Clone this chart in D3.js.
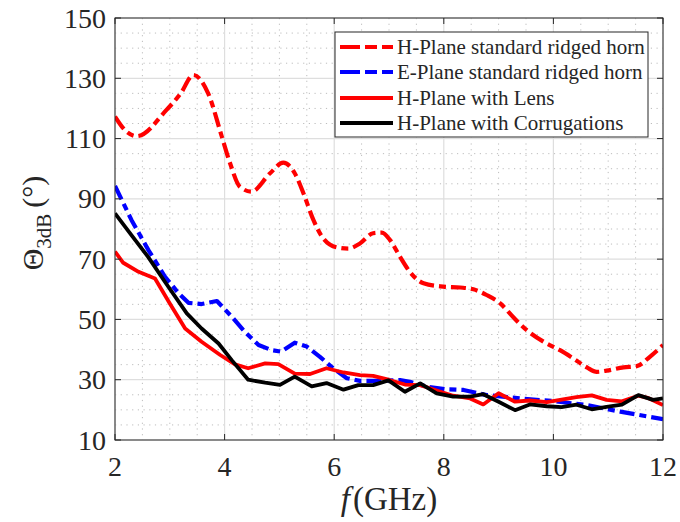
<!DOCTYPE html>
<html>
<head>
<meta charset="utf-8">
<script src="https://cdn.jsdelivr.net/npm/d3@7"></script>
<style>
  html, body { margin: 0; padding: 0; background: #fff; }
  svg { display: block; }
  text { font-family: "Liberation Serif", "Times New Roman", serif; fill: #262626; }
</style>
</head>
<body>
<svg id="chart" width="680" height="522"></svg>
<script>
// ---- Data ----
const hStdFreq = [2.0, 2.2, 2.4, 2.94, 3.2, 3.43, 3.7, 3.95, 4.1, 4.28, 4.49, 4.83, 5.07, 5.28, 5.44, 5.62, 5.8, 6.05, 6.26, 6.47, 6.71, 6.87, 7.02, 7.2, 7.38, 7.63, 7.99, 8.3, 8.54, 8.78, 9.03, 9.27, 9.51, 9.82, 10.12, 10.36, 10.61, 10.79, 10.97, 11.28, 11.52, 11.76, 12.0];
const hStdVals = [117.3, 112.5, 110.8, 119.5, 125, 131.1, 125, 110.6, 101.8, 94, 92.4, 98.5, 102, 98.5, 91.8, 83, 76.9, 73.9, 73.5, 75.2, 78.6, 78.8, 76.3, 70.8, 65.8, 62, 60.9, 60.6, 60, 58.1, 55.3, 50.7, 46.5, 42.6, 39.8, 37.1, 34.1, 32.6, 33, 34.1, 34.5, 37.6, 41.5];

const eStdFreq = [2.0, 2.3, 2.61, 2.91, 3.16, 3.34, 3.58, 3.86, 4.13, 4.37, 4.62, 4.86, 5.03, 5.28, 5.5, 5.74, 5.98, 6.23, 6.47, 6.84, 7.2, 7.38, 7.69, 8.05, 8.36, 8.78, 9.39, 10.0, 10.61, 11.22, 12.0];
const eStdVals = [94.3, 83, 73, 64.2, 58.7, 55.5, 55.1, 56.1, 50.9, 45.9, 41.5, 39.8, 39.3, 42.3, 41, 37.6, 33.8, 30.5, 29.6, 29.6, 29.9, 29.3, 27.7, 26.8, 26.6, 24.9, 23.8, 22.9, 21.6, 19.4, 16.9];

const lensFreq = [2.0, 2.15, 2.43, 2.73, 3.0, 3.28, 3.58, 3.92, 4.19, 4.43, 4.74, 4.98, 5.28, 5.56, 5.86, 6.17, 6.47, 6.71, 6.99, 7.29, 7.57, 7.87, 8.17, 8.48, 8.72, 9.0, 9.3, 9.57, 9.88, 10.15, 10.42, 10.7, 10.97, 11.25, 11.55, 11.72, 12.0];
const lensVals = [72.5, 68.8, 65.8, 63.6, 55.3, 47, 42.6, 38.2, 35.1, 33.8, 35.4, 35.2, 32, 31.9, 33.8, 32.4, 31.5, 31.3, 30, 28.4, 28.2, 26.4, 24.7, 23.8, 21.8, 25.5, 22.7, 23.1, 22.6, 23.4, 24.2, 24.8, 23.3, 22.8, 24.7, 24, 21.6];

const corrFreq = [2.0, 2.3, 2.61, 2.91, 3.31, 3.58, 3.89, 4.13, 4.43, 4.74, 5.01, 5.28, 5.59, 5.86, 6.17, 6.44, 6.71, 6.99, 7.29, 7.57, 7.87, 8.17, 8.48, 8.72, 9.0, 9.3, 9.57, 9.88, 10.15, 10.42, 10.7, 10.97, 11.25, 11.55, 11.82, 12.0];
const corrVals = [85.2, 78, 70.6, 62.5, 52, 47, 42, 36.5, 30, 29, 28.3, 31, 27.8, 28.9, 26.7, 28.2, 28.2, 29.8, 26, 28.8, 25.5, 24.4, 24.4, 25.2, 22.7, 19.9, 21.8, 21.2, 20.9, 21.7, 20.2, 21, 21.7, 24.9, 23.3, 23.8];

const xTicks = [2, 4, 6, 8, 10, 12];
const yTicks = [10, 30, 50, 70, 90, 110, 130, 150];
const seriesNames = ["H-Plane standard ridged horn", "E-Plane standard ridged horn", "H-Plane with Lens", "H-Plane with Corrugations"];

// ---- Layout ----
const svg = d3.select("#chart");
const L = 115, R = 663, T = 18, B = 440;
const x = d3.scaleLinear().domain([2, 12]).range([L, R]);
const y = d3.scaleLinear().domain([10, 150]).range([B, T]);
const axisColor = "#262626";

// Minor grid (dotted)
const xMinor = d3.range(2, 12.001, 0.5).filter(v => Math.abs(v / 2 - Math.round(v / 2)) > 1e-6);
const yMinor = d3.range(10, 150.001, 5).filter(v => (v - 10) % 20 !== 0);
const g = svg.append("g");
g.selectAll(".xmin").data(xMinor).join("line")
  .attr("x1", d => x(d)).attr("x2", d => x(d)).attr("y1", T).attr("y2", B)
  .attr("stroke", "#bdbdbd").attr("stroke-width", 1).attr("stroke-dasharray", "1.2,4.5");
g.selectAll(".ymin").data(yMinor).join("line")
  .attr("x1", L).attr("x2", R).attr("y1", d => y(d)).attr("y2", d => y(d))
  .attr("stroke", "#bdbdbd").attr("stroke-width", 1).attr("stroke-dasharray", "1.2,4.5");
// Major grid
g.selectAll(".xmaj").data(xTicks).join("line")
  .attr("x1", d => x(d)).attr("x2", d => x(d)).attr("y1", T).attr("y2", B)
  .attr("stroke", "#dedede").attr("stroke-width", 1.2);
g.selectAll(".ymaj").data(yTicks).join("line")
  .attr("x1", L).attr("x2", R).attr("y1", d => y(d)).attr("y2", d => y(d))
  .attr("stroke", "#dedede").attr("stroke-width", 1.2);

// Series
const series = [
  { f: hStdFreq, v: hStdVals, color: "#ff0000", dash: "15,5,7,5", width: 4.2, curve: d3.curveMonotoneX },
  { f: eStdFreq, v: eStdVals, color: "#0000ff", dash: "15,5,7,5", width: 4.2, curve: d3.curveLinear },
  { f: lensFreq, v: lensVals, color: "#ff0000", dash: null, width: 3.8, curve: d3.curveLinear },
  { f: corrFreq, v: corrVals, color: "#000000", dash: null, width: 3.8, curve: d3.curveLinear }
];

svg.append("defs").append("clipPath").attr("id", "clip")
  .append("rect").attr("x", L).attr("y", T).attr("width", R - L).attr("height", B - T);

const plot = svg.append("g").attr("clip-path", "url(#clip)");
series.forEach(s => {
  const pts = s.f.map((f, i) => [f, s.v[i]]);
  const line = d3.line().x(d => x(d[0])).y(d => y(d[1])).curve(s.curve);
  plot.append("path").datum(pts).attr("d", line)
    .attr("fill", "none").attr("stroke", s.color).attr("stroke-width", s.width)
    .attr("stroke-linejoin", "round")
    .attr("stroke-dasharray", s.dash);
});

// Axes (box with inward ticks)
const tickLen = 6;
const axes = svg.append("g").attr("stroke", axisColor).attr("stroke-width", 1);
axes.append("rect").attr("x", L).attr("y", T).attr("width", R - L).attr("height", B - T).attr("fill", "none");
xTicks.forEach(t => {
  axes.append("line").attr("x1", x(t)).attr("x2", x(t)).attr("y1", B).attr("y2", B - tickLen);
  axes.append("line").attr("x1", x(t)).attr("x2", x(t)).attr("y1", T).attr("y2", T + tickLen);
});
yTicks.forEach(t => {
  axes.append("line").attr("x1", L).attr("x2", L + tickLen).attr("y1", y(t)).attr("y2", y(t));
  axes.append("line").attr("x1", R).attr("x2", R - tickLen).attr("y1", y(t)).attr("y2", y(t));
});

// Tick labels
svg.append("g").selectAll("text").data(xTicks).join("text")
  .attr("x", d => x(d)).attr("y", 476).attr("text-anchor", "middle")
  .attr("font-size", 28).text(d => d);
svg.append("g").selectAll("text").data(yTicks).join("text")
  .attr("x", 106).attr("y", d => y(d) + 9.5).attr("text-anchor", "end")
  .attr("font-size", 28).text(d => d);

// Axis titles
const xt = svg.append("text").attr("x", (L + R) / 2).attr("y", 510)
  .attr("text-anchor", "middle").attr("font-size", 33);
xt.append("tspan").attr("font-style", "italic").text("f");
xt.append("tspan").attr("dx", 3).text("(GHz)");

const yt = svg.append("text").attr("transform", "translate(43,223) rotate(-90)")
  .attr("text-anchor", "middle").attr("font-size", 30);
yt.append("tspan").text("Θ");
yt.append("tspan").attr("font-size", 21).attr("dy", 8).text("3dB");
yt.append("tspan").attr("dy", -8).attr("dx", 6).text("(°)");

// Legend
const lg = svg.append("g");
lg.append("rect").attr("x", 335).attr("y", 32).attr("width", 313).attr("height", 105)
  .attr("fill", "#fff").attr("stroke", axisColor).attr("stroke-width", 1);
const rowY = [47, 72, 98, 123];
series.forEach((s, i) => {
  lg.append("line").attr("x1", 340).attr("x2", 393).attr("y1", rowY[i]).attr("y2", rowY[i])
    .attr("stroke", s.color).attr("stroke-width", s.width)
    .attr("stroke-dasharray", s.dash ? "20,5,12,5" : null);
  lg.append("text").attr("x", 397).attr("y", rowY[i] + 7).attr("font-size", 21).text(seriesNames[i]);
});
</script>
</body>
</html>
